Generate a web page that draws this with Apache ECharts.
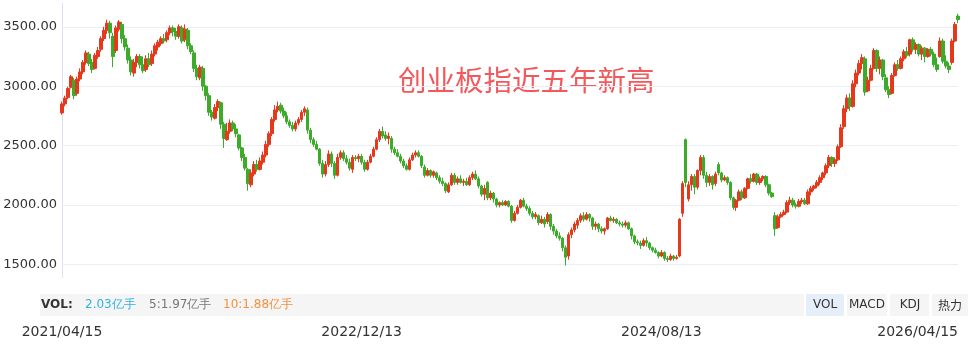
<!DOCTYPE html>
<html><head><meta charset="utf-8">
<script src="https://cdn.jsdelivr.net/npm/echarts@6/dist/echarts.min.js"></script>
<style>html,body{margin:0;padding:0;background:#fff}#c{width:968px;height:345px}</style>
</head><body><div id="c"></div>
<script>
// daily-ish candles: open, close, low, high
const opens = [2775,2850,2905,2990,3050,2940,3060,3120,3200,3270,3200,3150,3250,3310,3400,3470,3530,3420,3300,3480,
3520,3400,3320,3220,3110,3200,3250,3180,3140,3230,3190,3270,3330,3360,3400,3390,3450,3490,3460,3420,
3490,3390,3470,3340,3280,3150,3070,3150,3000,2920,2780,2730,2820,2860,2680,2550,2620,2690,2640,2590,
2480,2400,2300,2170,2260,2340,2300,2360,2420,2510,2600,2720,2800,2840,2790,2750,2700,2670,2640,2690,
2720,2780,2800,2630,2550,2510,2470,2350,2260,2340,2430,2350,2250,2400,2440,2390,2360,2300,2400,2390,
2410,2360,2300,2360,2410,2470,2550,2620,2590,2560,2560,2470,2440,2410,2370,2330,2300,2380,2420,2440,
2410,2320,2250,2290,2250,2270,2230,2200,2180,2110,2170,2250,2190,2220,2190,2200,2170,2230,2260,2220,
2160,2090,2190,2060,2100,2050,2000,2020,2000,2030,1990,1870,1930,1980,2040,1990,1970,1930,1900,1910,
1850,1880,1860,1920,1820,1780,1740,1720,1640,1570,1750,1790,1830,1870,1910,1880,1920,1890,1820,1840,
1800,1780,1800,1890,1870,1880,1850,1840,1830,1850,1800,1740,1690,1680,1660,1700,1680,1640,1620,1600,
1570,1600,1550,1540,1570,1550,1570,1930,2550,2050,2170,2240,2150,2290,2400,2250,2190,2240,2180,2340,
2270,2210,2230,2190,2060,1980,2040,2110,2060,2140,2220,2200,2260,2190,2220,2240,2170,2100,1910,1810,
1900,1920,1940,2020,2040,2000,1990,2030,2040,2010,2110,2140,2160,2190,2230,2270,2330,2400,2350,2380,
2490,2660,2810,2900,2830,3020,3110,3190,3230,2960,3050,3150,3300,3150,3220,3070,2970,2940,3090,3180,
3150,3230,3290,3270,3390,3310,3350,3270,3320,3250,3310,3270,3180,3250,3380,3210,3170,3200,3380,3590];
const closes = [2850,2900,2980,3080,2920,3060,3120,3200,3280,3190,3140,3260,3300,3400,3470,3530,3450,3250,3490,3540,
3400,3330,3220,3120,3200,3250,3180,3130,3230,3180,3270,3340,3370,3400,3380,3450,3490,3460,3420,3500,
3380,3480,3340,3290,3150,3080,3160,3000,2920,2780,2740,2820,2870,2680,2560,2620,2690,2640,2600,2480,
2400,2310,2180,2270,2340,2300,2370,2420,2510,2600,2720,2800,2830,2790,2750,2700,2670,2640,2690,2720,
2780,2810,2630,2550,2510,2470,2350,2260,2340,2430,2350,2250,2400,2440,2390,2360,2310,2400,2390,2410,
2360,2300,2360,2410,2470,2550,2620,2580,2560,2580,2470,2440,2410,2370,2330,2300,2380,2420,2440,2410,
2330,2250,2290,2250,2280,2230,2200,2180,2120,2170,2250,2190,2220,2190,2200,2170,2230,2260,2220,2160,
2090,2140,2060,2100,2050,2000,2020,2000,2030,1990,1870,1930,1980,2040,1990,1970,1930,1900,1920,1850,
1880,1840,1920,1820,1780,1740,1720,1640,1560,1750,1790,1840,1870,1910,1880,1920,1890,1820,1840,1800,
1780,1800,1890,1870,1880,1850,1840,1830,1850,1800,1740,1690,1680,1660,1700,1680,1640,1620,1600,1570,
1600,1550,1540,1570,1550,1560,1880,2180,2190,2170,2240,2150,2290,2400,2250,2190,2240,2170,2260,2270,
2210,2230,2190,2060,1980,2040,2110,2060,2140,2220,2200,2260,2190,2220,2240,2170,2100,2070,1800,1900,
1920,1940,2020,2040,2000,1990,2030,2040,2010,2110,2140,2160,2190,2230,2270,2330,2400,2350,2380,2490,
2650,2810,2900,2830,3020,3110,3190,3240,2950,3050,3150,3300,3150,3220,3080,2970,2930,3090,3180,3150,
3230,3290,3260,3390,3310,3350,3270,3320,3250,3310,3270,3180,3140,3380,3210,3170,3140,3380,3520,3560];
const lows = [2760,2830,2890,2980,2890,2920,3040,3100,3180,3170,3110,3140,3230,3290,3380,3440,3400,3160,3280,3460,
3360,3300,3190,3090,3080,3160,3150,3110,3120,3160,3170,3250,3300,3340,3360,3370,3430,3420,3390,3400,
3360,3370,3310,3270,3120,3050,3050,2960,2880,2750,2710,2720,2790,2640,2480,2540,2600,2620,2570,2460,
2370,2290,2120,2150,2240,2280,2290,2340,2400,2490,2580,2700,2780,2770,2730,2680,2650,2620,2620,2670,
2700,2750,2600,2520,2490,2460,2330,2230,2240,2320,2320,2220,2240,2380,2370,2340,2290,2270,2370,2360,
2340,2280,2290,2350,2400,2460,2530,2560,2540,2510,2440,2420,2400,2350,2310,2290,2290,2370,2400,2400,
2310,2230,2240,2230,2230,2210,2180,2160,2100,2100,2160,2170,2170,2180,2160,2160,2160,2210,2210,2140,
2070,2040,2040,2040,2020,1980,1980,1990,1990,1980,1850,1860,1920,1970,1980,1950,1910,1880,1880,1830,
1840,1810,1840,1790,1750,1720,1700,1610,1490,1540,1720,1770,1800,1850,1860,1870,1860,1790,1790,1770,
1760,1750,1790,1860,1850,1840,1820,1810,1810,1790,1710,1670,1660,1630,1650,1650,1620,1600,1590,1550,
1560,1530,1520,1530,1530,1540,1560,1900,2150,2030,2120,2090,2130,2250,2220,2150,2160,2130,2160,2250,
2190,2200,2170,2040,1960,1950,2030,2040,2050,2130,2180,2190,2170,2170,2200,2150,2080,2060,1740,1800,
1890,1910,1930,2000,1980,1970,1980,2010,2000,2000,2080,2120,2140,2170,2210,2250,2310,2320,2320,2370,
2480,2640,2780,2790,2820,2990,3090,3140,2920,2950,3040,3140,3120,3100,3050,2950,2900,2930,3080,3130,
3140,3210,3240,3250,3290,3270,3250,3220,3200,3240,3250,3160,3120,3240,3190,3150,3110,3180,3370,3530];
const highs = [2870,2920,2995,3095,3070,3080,3150,3220,3300,3290,3230,3280,3330,3420,3500,3560,3550,3450,3510,3556,
3540,3430,3350,3250,3230,3270,3270,3250,3260,3280,3300,3360,3390,3420,3440,3470,3510,3510,3490,3520,
3510,3520,3490,3360,3300,3180,3180,3170,3010,2940,2800,2850,2890,2870,2700,2690,2720,2710,2680,2600,
2490,2430,2310,2300,2370,2380,2400,2450,2540,2620,2740,2840,2870,2860,2820,2780,2720,2700,2710,2740,
2800,2830,2820,2650,2570,2540,2480,2380,2370,2460,2450,2370,2430,2460,2460,2420,2390,2420,2420,2430,
2430,2380,2380,2430,2490,2570,2640,2660,2620,2610,2580,2490,2470,2430,2390,2350,2400,2440,2460,2460,
2420,2340,2310,2300,2290,2280,2250,2230,2190,2190,2270,2270,2240,2250,2220,2230,2250,2280,2290,2240,
2170,2170,2200,2120,2110,2060,2030,2040,2040,2040,2000,1950,2000,2050,2060,2010,1990,1950,1940,1920,
1910,1900,1940,1930,1840,1800,1770,1730,1660,1770,1810,1860,1890,1930,1940,1940,1930,1900,1860,1850,
1820,1810,1900,1910,1900,1890,1870,1860,1870,1860,1810,1750,1710,1700,1720,1730,1690,1650,1640,1610,
1620,1610,1570,1590,1580,1580,1890,2200,2560,2200,2260,2260,2300,2420,2420,2280,2260,2250,2280,2360,
2280,2250,2240,2200,2070,2050,2130,2130,2150,2230,2260,2270,2270,2240,2250,2250,2180,2110,1940,1920,
1940,1960,2040,2070,2060,2020,2050,2060,2060,2130,2160,2170,2210,2250,2280,2350,2420,2410,2400,2510,
2680,2840,2930,2940,3050,3140,3220,3270,3250,3080,3180,3320,3310,3250,3230,3100,3000,3110,3200,3220,
3250,3310,3330,3400,3410,3370,3360,3340,3330,3320,3330,3290,3240,3410,3400,3260,3200,3400,3540,3610];
const yTicks = [1500, 2000, 2500, 3000, 3500];
const xTickIndex = [0, 100, 200, 299];
const xTickLabels = ['2021/04/15', '2022/12/13', '2024/08/13', '2026/04/15'];
const volTexts = ['2.03亿手', '5:1.97亿手', '10:1.88亿手'];
const tabNames = ['VOL', 'MACD', 'KDJ', '热力'];

const cats = opens.map((_, i) => String(i));
const candles = opens.map((o, i) => [o, closes[i], lows[i], highs[i]]);
const UP = '#e5391d', DOWN = '#3dab2a';
const FF = 'DejaVu Sans, sans-serif';

const chart = echarts.init(document.getElementById('c'), null, {renderer: 'canvas'});
chart.setOption({
  animation: false,
  grid: {left: 62, right: 10, top: 3, bottom: 21.2},
  xAxis: {
    type: 'category', data: cats, boundaryGap: false,
    axisLine: {show: false}, axisTick: {show: false}, splitLine: {show: false},
    axisLabel: {
      margin: 2, fontSize: 14, color: '#333', fontFamily: FF,
      interval: (idx) => xTickIndex.indexOf(idx) >= 0,
      formatter: (v, idx) => { const k = xTickIndex.indexOf(idx); return k >= 0 ? xTickLabels[k] : ''; },
      alignMaxLabel: 'right'
    }
  },
  yAxis: {
    type: 'value', min: 1000, max: 3700, interval: 500,
    axisLine: {show: false},
    axisTick: {show: false},
    splitLine: {show: true, showMinLine: false, showMaxLine: false,
      lineStyle: {color: '#eceef5', width: 1}},
    axisLabel: {
      margin: 5, fontSize: 13, color: '#333', fontFamily: FF,
      showMaxLabel: false,
      formatter: (v) => yTicks.indexOf(v) >= 0 ? v.toFixed(2) : ''
    }
  },
  series: [{
    type: 'candlestick', data: candles, barWidth: 3,
    itemStyle: {color: UP, color0: DOWN, borderColor: UP, borderColor0: DOWN, borderWidth: 1}
  }],
  graphic: [
    {type: 'line', shape: {x1: 62.5, y1: 3, x2: 62.5, y2: 278}, style: {stroke: '#dbe2f4', lineWidth: 1}, z: 0},
    {type: 'text', left: 398, top: 66, style: {text: '创业板指近五年新高', fontSize: 28.5, fill: '#f2585c', fontFamily: 'Noto Sans CJK SC'}},
    {type: 'rect', shape: {x: 40, y: 294, width: 764, height: 22}, style: {fill: '#f5f5f5'}},
    {type: 'text', x: 41, y: 305, style: {text: 'VOL:', fontSize: 12, fontWeight: 'bold', fill: '#333', fontFamily: FF, verticalAlign: 'middle'}},
    {type: 'text', x: 85, y: 305, style: {text: volTexts[0], fontSize: 12, fill: '#2fb3e3', fontFamily: FF, verticalAlign: 'middle'}},
    {type: 'text', x: 149, y: 305, style: {text: volTexts[1], fontSize: 12, fill: '#777', fontFamily: FF, verticalAlign: 'middle'}},
    {type: 'text', x: 223, y: 305, style: {text: volTexts[2], fontSize: 12, fill: '#f1923f', fontFamily: FF, verticalAlign: 'middle'}},
    {type: 'rect', shape: {x: 806, y: 294, width: 38, height: 22}, style: {fill: '#e6eef9'}},
    {type: 'rect', shape: {x: 847, y: 294, width: 40, height: 22}, style: {fill: '#f5f5f5'}},
    {type: 'rect', shape: {x: 890, y: 294, width: 39, height: 22}, style: {fill: '#f5f5f5'}},
    {type: 'rect', shape: {x: 932, y: 294, width: 36, height: 22}, style: {fill: '#f5f5f5'}},
    {type: 'text', x: 825, y: 305, style: {text: tabNames[0], fontSize: 12, fill: '#333', fontFamily: FF, align: 'center', verticalAlign: 'middle'}},
    {type: 'text', x: 867, y: 305, style: {text: tabNames[1], fontSize: 12, fill: '#333', fontFamily: FF, align: 'center', verticalAlign: 'middle'}},
    {type: 'text', x: 910, y: 305, style: {text: tabNames[2], fontSize: 12, fill: '#333', fontFamily: FF, align: 'center', verticalAlign: 'middle'}},
    {type: 'text', x: 950, y: 305, style: {text: tabNames[3], fontSize: 12, fill: '#333', fontFamily: 'Noto Sans CJK SC', align: 'center', verticalAlign: 'middle'}}
  ]
});
</script></body></html>
